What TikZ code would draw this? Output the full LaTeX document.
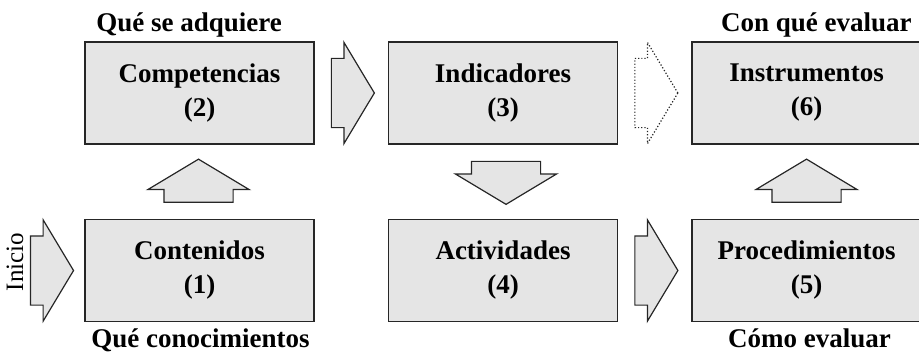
\documentclass[tikz,border=0pt]{standalone}
\usepackage{fontspec}
\setmainfont{Liberation Serif}
\usetikzlibrary{positioning,calc,shapes.arrows}
\tikzset{
    %Define style for boxes
    stage/.style={
           rectangle,
           draw=black!85, line width=0.75pt,
           fill=black!10,
           minimum width=114.5pt,
           minimum height=51pt,
           align=center,
           font=\fontsize{13.5}{17}\selectfont\bfseries},
    annote/.style={
          font=\fontsize{13.5}{17}\selectfont\bfseries
    },
    % Define block arrow style
    blockarrow/.style={
           single arrow,
           draw=black!85, line width=0.6pt,
           fill=black!10,
           inner xsep=0pt, inner ysep=17pt,
           minimum height=21.5pt,
           single arrow head extend=8pt,
           single arrow tip angle=118},
    uparrow/.style={
           blockarrow,
           shape border rotate=90,
           inner xsep=17pt, inner ysep=0pt},
    downarrow/.style={
           uparrow,
           shape border rotate=270},
    % Dotted arrow (not yet taken)
    ghostarrow/.style={
           blockarrow,
           fill=white,
           densely dotted, line width=0.6pt},
}
\begin{document}
\begin{tikzpicture}
  \useasboundingbox (0,0) rectangle (459.5pt,177pt);
  \node[stage] (comp) at (99.75pt,130.5pt) {Competencias\\(2)};
  \node[stage, right=36.5pt of comp] (ind) {Indicadores\\(3)};
  \node[stage, right=36.5pt of ind] (inst) {Instrumentos\\(6)};
  \node[stage, below=37pt of comp] (cont) {Contenidos\\(1)};
  \node[stage, below=37pt of ind] (act) {Actividades\\(4)};
  \node[stage, below=37pt of inst] (proc) {Procedimientos\\(5)};

  \node[annote, anchor=base west] (qsa) at ($(comp.north west)+(2.5pt,5pt)$) {Qué se adquiere};
  \node[annote, anchor=base east] (cqe) at ($(inst.north east)+(-1.5pt,5pt)$) {Con qué evaluar};
  \node[annote, anchor=base west] (qc) at ($(cont.south west)+(0pt,-12.5pt)$) {Qué conocimientos};
  \node[annote, anchor=base] (ce) at ($(proc.south)+(1.5pt,-12.5pt)$) {Cómo evaluar};
  \node[rotate=90, font=\fontsize{12.5}{15}\selectfont] (ini) at (7.5pt,46pt) {Inicio};

  \node[blockarrow, anchor=tip] (start) at ($(cont.west)+(-5pt,0)$) {};
  \node[uparrow, anchor=tail] (up1) at ($(cont.north)+(-0.5pt,8pt)$) {};
  \node[blockarrow, anchor=tail] (right1) at ($(comp.east)+(8pt,0)$) {};
  \node[downarrow, anchor=tail] (down1) at ($(ind.south)+(1.5pt,-8pt)$) {};
  \node[blockarrow, anchor=tail] (right2) at ($(act.east)+(8pt,0)$) {};
  \node[uparrow, anchor=tail] (up2) at ($(proc.north)+(0,8pt)$) {};
  \node[ghostarrow, anchor=tail] (right3) at ($(ind.east)+(8pt,0)$) {};
\end{tikzpicture}
\end{document}
